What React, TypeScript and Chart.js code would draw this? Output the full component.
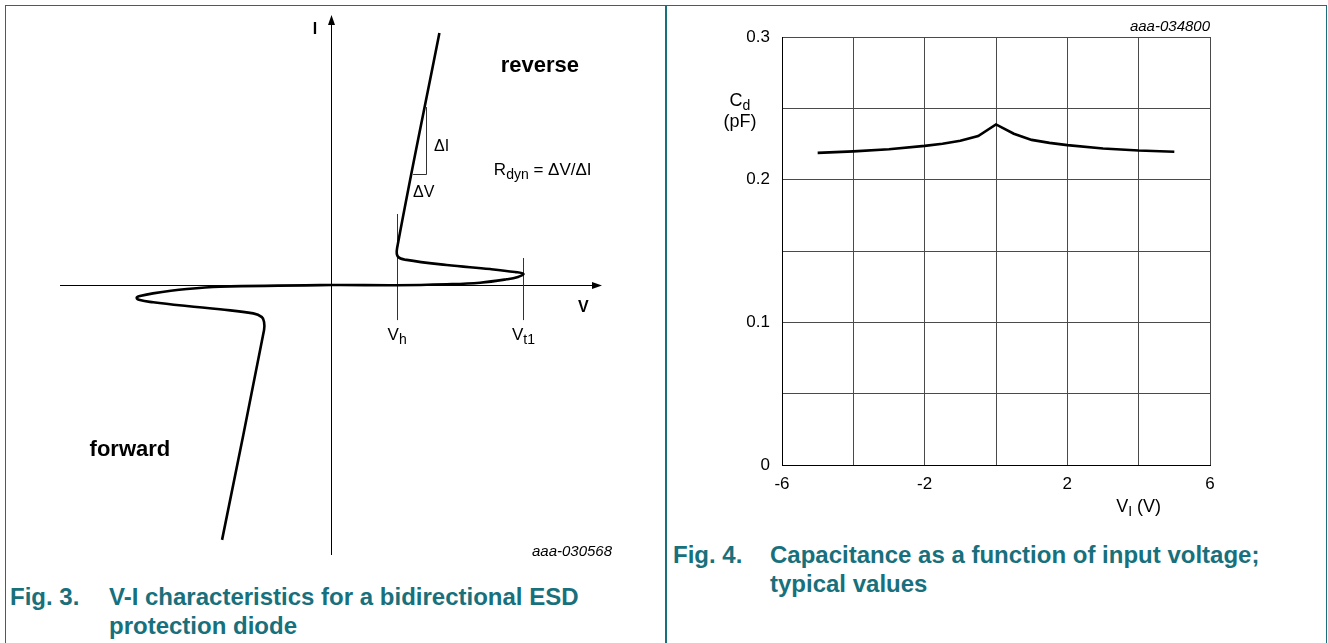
import React, { useEffect, useRef } from 'react';
import { Chart, registerables } from 'chart.js';

Chart.register(...registerables);

const FONT = '"Liberation Sans", Arial, Helvetica, sans-serif';
const TEAL = '#17707c';

// ---------- Fig. 3: schematic V-I curve (arbitrary units) ----------
const viVoltage = [4.0, 2.44, 2.47, 2.79, 4.27, 5.87, 6.79, 7.1, 6.9, 6.48, 5.5, 4.27, 2.42, 0, -4.1, -5.32, -6.57, -7.05, -7.17, -7.05, -6.56, -5.32, -4.1, -2.87, -2.55, -2.47, -2.47, -4.02];
const viCurrent = [9.33, 1.37, 1.05, 0.93, 0.74, 0.59, 0.48, 0.41, 0.3, 0.21, 0.085, 0.026, -0.01, 0, -0.063, -0.15, -0.31, -0.41, -0.47, -0.56, -0.64, -0.78, -0.9, -1.05, -1.19, -1.37, -1.67, -9.44];
const viGuideVoltages = [2.44, 7.1]; // Vh, Vt1
const viGuideTops = [2.63, 1.0];
const viGuideBottom = -1.3;
const viDeltaV = [3.03, 3.51]; // triangle horizontal span
const viDeltaI = [4.11, 6.59]; // triangle vertical span

// ---------- Fig. 4: capacitance vs input voltage ----------
const cdVoltage = [-5, -4, -3, -2, -1.5, -1, -0.5, 0, 0.5, 1, 1.5, 2, 3, 4, 5];
const cdCapacitance = [0.2188, 0.2198, 0.2213, 0.2237, 0.2252, 0.2273, 0.2306, 0.2387, 0.2322, 0.2279, 0.2258, 0.2242, 0.2218, 0.2204, 0.2196];
const cdXGrid = [-6, -4, -2, 0, 2, 4, 6];
const cdXLabels = [-6, -2, 2, 6];
const cdYGrid = [0, 0.05, 0.1, 0.15, 0.2, 0.25, 0.3];
const cdYLabels = [0, 0.1, 0.2, 0.3];

type Part = { t: string; size: number; weight?: string; style?: string; dy?: number };

function fontOf(p: Part) {
  return `${p.style || 'normal'} ${p.weight || 'normal'} ${p.size}px ${FONT}`;
}

function drawRich(ctx: CanvasRenderingContext2D, parts: Part[], x: number, y: number, align: 'left' | 'center' | 'right') {
  ctx.save();
  ctx.textAlign = 'left';
  ctx.textBaseline = 'alphabetic';
  ctx.fillStyle = '#000';
  let total = 0;
  const widths: number[] = [];
  for (const p of parts) {
    ctx.font = fontOf(p);
    const w = ctx.measureText(p.t).width;
    widths.push(w);
    total += w;
  }
  let cx = align === 'center' ? x - total / 2 : align === 'right' ? x - total : x;
  parts.forEach((p, i) => {
    ctx.font = fontOf(p);
    ctx.fillText(p.t, cx, y + (p.dy || 0));
    cx += widths[i];
  });
  ctx.restore();
}

const viOverlay = {
  id: 'viOverlay',
  beforeDatasetsDraw(chart: any) {
    const { ctx, chartArea } = chart;
    const xs = chart.scales.x;
    const ys = chart.scales.y;
    const x0 = Math.round(xs.getPixelForValue(0)) + 0.5;
    const y0 = Math.round(ys.getPixelForValue(0)) + 0.5;
    ctx.save();
    ctx.strokeStyle = '#000';
    ctx.fillStyle = '#000';
    ctx.lineWidth = 1;
    // horizontal axis
    ctx.beginPath();
    ctx.moveTo(chartArea.left, y0);
    ctx.lineTo(chartArea.right - 6, y0);
    ctx.stroke();
    ctx.beginPath();
    ctx.moveTo(chartArea.right, y0);
    ctx.lineTo(chartArea.right - 10, y0 - 3.5);
    ctx.lineTo(chartArea.right - 10, y0 + 3.5);
    ctx.closePath();
    ctx.fill();
    // vertical axis
    ctx.beginPath();
    ctx.moveTo(x0, chartArea.bottom);
    ctx.lineTo(x0, chartArea.top + 6);
    ctx.stroke();
    ctx.beginPath();
    ctx.moveTo(x0, chartArea.top);
    ctx.lineTo(x0 - 3.5, chartArea.top + 10);
    ctx.lineTo(x0 + 3.5, chartArea.top + 10);
    ctx.closePath();
    ctx.fill();
    // guide lines Vh, Vt1
    ctx.strokeStyle = '#333';
    viGuideVoltages.forEach((v, i) => {
      const gx = Math.round(xs.getPixelForValue(v)) + 0.5;
      ctx.beginPath();
      ctx.moveTo(gx, ys.getPixelForValue(viGuideTops[i]));
      ctx.lineTo(gx, ys.getPixelForValue(viGuideBottom));
      ctx.stroke();
    });
    // delta triangle
    const tx = Math.round(xs.getPixelForValue(viDeltaV[1])) + 0.5;
    const ty = Math.round(ys.getPixelForValue(viDeltaI[0])) + 0.5;
    ctx.beginPath();
    ctx.moveTo(tx, ys.getPixelForValue(viDeltaI[1]));
    ctx.lineTo(tx, ty);
    ctx.lineTo(xs.getPixelForValue(viDeltaV[0]), ty);
    ctx.stroke();
    ctx.restore();
  },
  afterDraw(chart: any) {
    const { ctx } = chart;
    const xs = chart.scales.x;
    const ys = chart.scales.y;
    const px = (v: number) => xs.getPixelForValue(v);
    const py = (i: number) => ys.getPixelForValue(i);
    drawRich(ctx, [{ t: 'I', size: 16, weight: 'bold' }], px(-0.59), py(9.3), 'center');
    drawRich(ctx, [{ t: 'reverse', size: 22, weight: 'bold' }], px(7.71), py(7.89), 'center');
    drawRich(ctx, [{ t: '\u0394I', size: 16 }], px(3.8), py(4.96), 'left');
    drawRich(ctx, [
      { t: 'R', size: 17 },
      { t: 'dyn', size: 14, dy: 4 },
      { t: ' = \u0394V/\u0394I', size: 17 },
    ], px(6.01), py(4.07), 'left');
    drawRich(ctx, [{ t: '\u0394V', size: 16 }], px(3.03), py(3.26), 'left');
    drawRich(ctx, [{ t: 'V', size: 16, weight: 'bold' }], px(9.11), py(-1.0), 'left');
    drawRich(ctx, [{ t: 'V', size: 17 }, { t: 'h', size: 14, dy: 4 }], px(viGuideVoltages[0]), py(-2.04), 'center');
    drawRich(ctx, [{ t: 'V', size: 17 }, { t: 't1', size: 14, dy: 4 }], px(viGuideVoltages[1]), py(-2.04), 'center');
    drawRich(ctx, [{ t: 'forward', size: 22, weight: 'bold' }], px(-7.42), py(-6.33), 'center');
    drawRich(ctx, [{ t: 'aaa-030568', size: 15, style: 'italic' }], px(10.37), py(-10.04), 'right');
  },
};

const cdOverlay = {
  id: 'cdOverlay',
  afterDraw(chart: any) {
    const { ctx, chartArea } = chart;
    const xs = chart.scales.x;
    drawRich(ctx, [{ t: 'C', size: 18 }, { t: 'd', size: 14, dy: 4 }], chartArea.left - 42, 106, 'center');
    drawRich(ctx, [{ t: '(pF)', size: 18 }], chartArea.left - 42, 127, 'center');
    drawRich(ctx, [{ t: 'V', size: 18 }, { t: 'I', size: 14, dy: 4 }, { t: ' (V)', size: 18 }], xs.getPixelForValue(4), chartArea.bottom + 47, 'center');
    drawRich(ctx, [{ t: 'aaa-034800', size: 15, style: 'italic' }], chartArea.right, chartArea.top - 6, 'right');
  },
};

function ViChart() {
  const ref = useRef<HTMLCanvasElement>(null);
  useEffect(() => {
    const chart = new Chart(ref.current!, {
      type: 'scatter',
      data: {
        datasets: [
          {
            data: viVoltage.map((v, i) => ({ x: v, y: viCurrent[i] })),
            showLine: true,
            borderColor: '#000',
            borderWidth: 2.6,
            pointRadius: 0,
            tension: 0.4,
            fill: false,
          },
        ],
      },
      options: {
        animation: false,
        responsive: false,
        maintainAspectRatio: false,
        events: [],
        layout: { padding: { left: 60, right: 63, top: 15, bottom: 15 } },
        plugins: { legend: { display: false }, tooltip: { enabled: false } },
        scales: {
          x: { type: 'linear', display: false, min: -10, max: 10 },
          y: { type: 'linear', display: false, min: -10, max: 10 },
        },
      },
      plugins: [viOverlay],
    } as any);
    return () => chart.destroy();
  }, []);
  return <canvas ref={ref} width={665} height={570} style={{ position: 'absolute', left: 0, top: 0 }} />;
}

function CdChart() {
  const ref = useRef<HTMLCanvasElement>(null);
  useEffect(() => {
    const near = (v: number, list: number[]) => list.some((t) => Math.abs(t - v) < 1e-9);
    const chart = new Chart(ref.current!, {
      type: 'scatter',
      data: {
        datasets: [
          {
            data: cdVoltage.map((v, i) => ({ x: v, y: cdCapacitance[i] })),
            showLine: true,
            borderColor: '#000',
            borderWidth: 2.6,
            pointRadius: 0,
            tension: 0,
            fill: false,
          },
        ],
      },
      options: {
        animation: false,
        responsive: false,
        maintainAspectRatio: false,
        events: [],
        layout: { padding: { left: 0, right: 115, top: 37, bottom: 0 } },
        plugins: { legend: { display: false }, tooltip: { enabled: false } },
        scales: {
          x: {
            type: 'linear',
            min: -6,
            max: 6,
            afterFit: (s: any) => {
              s.height = 55;
            },
            afterBuildTicks: (s: any) => {
              s.ticks = cdXGrid.map((v) => ({ value: v }));
            },
            ticks: {
              autoSkip: false,
              maxRotation: 0,
              padding: 9,
              color: '#000',
              font: { family: FONT, size: 17 },
              callback: (v: any) => (near(Number(v), cdXLabels) ? String(v) : ''),
            },
            grid: { color: '#4a4a4a', lineWidth: 1, drawTicks: false },
            border: { color: '#000', width: 1 },
          },
          y: {
            type: 'linear',
            min: 0,
            max: 0.3,
            afterFit: (s: any) => {
              s.width = 112;
            },
            afterBuildTicks: (s: any) => {
              s.ticks = cdYGrid.map((v) => ({ value: v }));
            },
            ticks: {
              autoSkip: false,
              padding: 12,
              color: '#000',
              font: { family: FONT, size: 17 },
              callback: (v: any) => (near(Number(v), cdYLabels) ? String(Math.round(Number(v) * 10) / 10) : ''),
            },
            grid: { color: '#4a4a4a', lineWidth: 1, drawTicks: false },
            border: { color: '#000', width: 1 },
          },
        },
      },
      plugins: [cdOverlay],
    } as any);
    return () => chart.destroy();
  }, []);
  return <canvas ref={ref} width={655} height={520} style={{ position: 'absolute', left: 670, top: 0 }} />;
}

const captionStyle: React.CSSProperties = {
  position: 'absolute',
  fontFamily: FONT,
  fontWeight: 'bold',
  fontSize: 24,
  lineHeight: '29px',
  color: TEAL,
  whiteSpace: 'nowrap',
};

export default function App() {
  return (
    <div style={{ position: 'absolute', left: 0, top: 0, width: 1328, height: 643, background: '#fff', overflow: 'hidden' }}>
      <div style={{ position: 'absolute', left: 5, top: 5, width: 1322, height: 1, background: TEAL }} />
      <div style={{ position: 'absolute', left: 5, top: 5, width: 1, height: 638, background: TEAL }} />
      <div style={{ position: 'absolute', left: 665, top: 5, width: 2, height: 638, background: TEAL }} />
      <div style={{ position: 'absolute', left: 1326, top: 5, width: 1, height: 638, background: TEAL }} />
      <ViChart />
      <CdChart />
      <div style={{ ...captionStyle, left: 10, top: 582 }}>Fig. 3.</div>
      <div style={{ ...captionStyle, left: 109, top: 582 }}>
        V-I characteristics for a bidirectional ESD
        <br />
        protection diode
      </div>
      <div style={{ ...captionStyle, left: 673, top: 540 }}>Fig. 4.</div>
      <div style={{ ...captionStyle, left: 770, top: 540 }}>
        Capacitance as a function of input voltage;
        <br />
        typical values
      </div>
    </div>
  );
}
